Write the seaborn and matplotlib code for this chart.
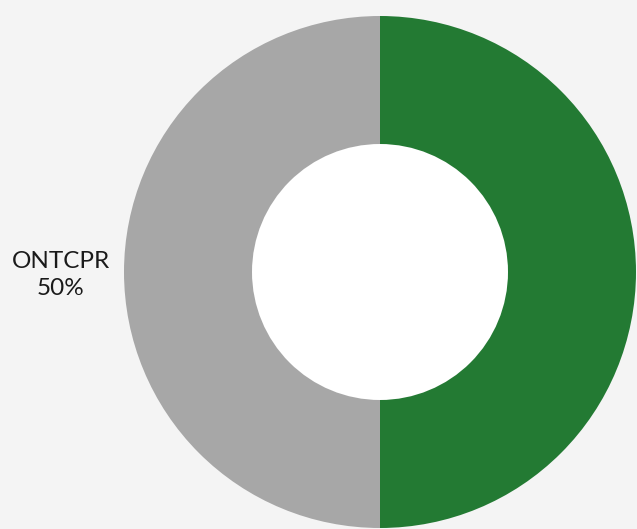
import numpy as np
import pandas as pd
import matplotlib
matplotlib.use("Agg")
import matplotlib.pyplot as plt
import seaborn as sns

# data
categories = ["", "ONTCPR"]
shares = [50, 50]
slice_colors = ["#237a33", "#a7a7a7"]

sns.set_theme(style="white")
plt.rcParams["font.family"] = ["Lato", "DejaVu Sans"]

df = pd.DataFrame({"category": categories, "share": shares})

fig = plt.figure(figsize=(6.37, 5.29), dpi=100)
fig.patch.set_facecolor("#f4f4f4")

# center at (380, 272) px, outer radius 256 px
ax = fig.add_axes([(380 - 256) / 637, (529 - 272 - 256) / 529, 512 / 637, 512 / 529])
ax.set_facecolor("#f4f4f4")

labels = [f"{c}\n{s}%" if c else "" for c, s in zip(df["category"], df["share"])]
wedges, texts = ax.pie(
    df["share"], colors=slice_colors, labels=labels, startangle=90,
    counterclock=False, labeldistance=1.055,
    wedgeprops=dict(width=0.5, linewidth=0),
    textprops=dict(fontsize=17.5, color="#1a1a1a", multialignment="center",
                   linespacing=1.35),
)
ax.add_patch(plt.Circle((0, 0), 0.5, color="white", zorder=0))
ax.set_xlim(-1, 1)
ax.set_ylim(-1, 1)
ax.set_aspect("equal")
for t in texts:
    t.set_clip_on(False)
    x, y = t.get_position()
    t.set_position((x, y - 0.01))

fig.savefig("out.png", dpi=100, facecolor=fig.get_facecolor())
